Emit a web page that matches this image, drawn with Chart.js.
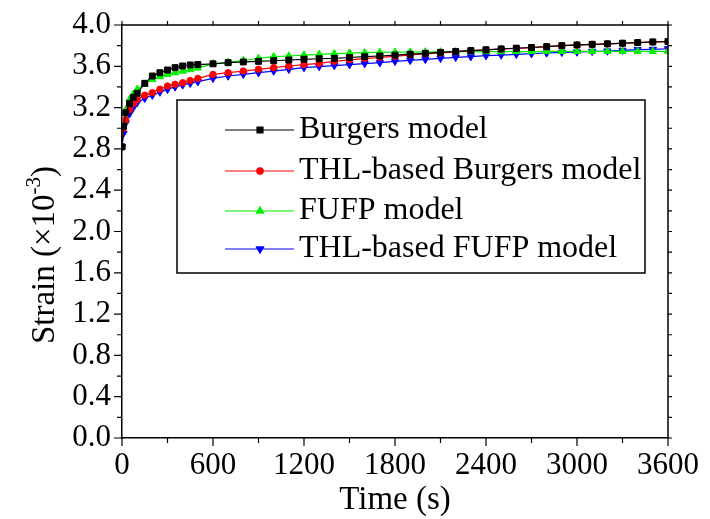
<!DOCTYPE html>
<html><head><meta charset="utf-8">
<script src="https://cdn.jsdelivr.net/npm/chart.js@4"></script>
<style>html,body{margin:0;padding:0;background:#fff}</style>
</head><body>
<canvas id="c" width="710" height="519"></canvas>
<script>
const times = [0,10,25,50,75,100,150,200,250,300,350,400,450,500,600,700,800,900,1000,1100,1200,1300,1400,1500,1600,1700,1800,1900,2000,2100,2200,2300,2400,2500,2600,2700,2800,2900,3000,3100,3200,3300,3400,3500,3600];
const burgers = [2.82,3.02,3.15,3.24,3.30,3.338,3.435,3.506,3.538,3.564,3.587,3.603,3.613,3.617,3.624,3.635,3.642,3.648,3.654,3.661,3.668,3.673,3.677,3.685,3.693,3.700,3.708,3.717,3.726,3.735,3.744,3.752,3.760,3.768,3.775,3.782,3.790,3.800,3.807,3.813,3.818,3.824,3.830,3.836,3.840];
const thlBurgers = [2.82,3.00,3.08,3.18,3.24,3.28,3.32,3.345,3.378,3.409,3.426,3.441,3.462,3.483,3.522,3.538,3.554,3.571,3.587,3.603,3.617,3.629,3.648,3.663,3.675,3.687,3.697,3.710,3.720,3.729,3.740,3.752,3.758,3.768,3.774,3.781,3.790,3.800,3.806,3.813,3.816,3.822,3.829,3.835,3.838];
const fufp = [2.82,3.05,3.18,3.28,3.33,3.377,3.425,3.474,3.500,3.522,3.538,3.554,3.568,3.584,3.624,3.638,3.656,3.677,3.693,3.700,3.709,3.716,3.722,3.728,3.732,3.735,3.737,3.738,3.739,3.740,3.741,3.741,3.742,3.742,3.743,3.743,3.744,3.744,3.744,3.745,3.745,3.745,3.745,3.745,3.745];
const thlFufp = [2.82,2.95,3.05,3.14,3.20,3.248,3.29,3.32,3.35,3.377,3.40,3.419,3.435,3.451,3.483,3.506,3.522,3.538,3.554,3.571,3.587,3.597,3.607,3.616,3.626,3.635,3.648,3.657,3.667,3.677,3.687,3.693,3.703,3.709,3.716,3.722,3.729,3.735,3.738,3.745,3.748,3.755,3.761,3.764,3.770];
const seriesLabels = ['Burgers model','THL-based Burgers model','FUFP model','THL-based FUFP model'];
const xTitle = 'Time (s)';
const yTitleMain = 'Strain (\u00d710';
const yTitleSup = '-3';
const yTitleEnd = ')';

const FONT = "'Liberation Serif', 'Times New Roman', serif";
function pts(arr){ return times.map((t,i)=>({x:t,y:arr[i]})); }
function ds(label, arr, color, style, r, rot){
  return {label, data:pts(arr), borderColor:color, backgroundColor:color, borderWidth:1.2,
    pointStyle:style, pointRadius:r, pointRotation:rot||0, pointBorderWidth:1, pointBorderColor:color,
    tension:0, fill:false};
}
const datasets = [
  ds(seriesLabels[0], burgers, '#000000', 'rect', 4.2),
  ds(seriesLabels[1], thlBurgers, '#ff0000', 'circle', 3.2),
  ds(seriesLabels[2], fufp, '#00f000', 'triangle', 4.2),
  ds(seriesLabels[3], thlFufp, '#0000ff', 'triangle', 4.2, 180)
];

const framePlugin = {
  id:'frame',
  afterDraw(chart){
    const ctx = chart.ctx, a = chart.chartArea, xs = chart.scales.x, ys = chart.scales.y;
    ctx.save();
    ctx.strokeStyle = '#000'; ctx.lineWidth = 1.5;
    ctx.beginPath();
    ctx.moveTo(a.left, a.top); ctx.lineTo(a.right, a.top); ctx.lineTo(a.right, a.bottom);
    ctx.stroke();
    ctx.lineWidth = 1.2;
    ctx.beginPath();
    for (let t=0; t<=3600; t+=300){
      const px = xs.getPixelForValue(t);
      const major = t % 600 === 0;
      ctx.moveTo(px, a.bottom); ctx.lineTo(px, a.bottom + (major?8:5));
      ctx.moveTo(px, a.top); ctx.lineTo(px, a.top - 4);
    }
    for (let k=0; k<=20; k++){
      const v = k*0.2, py = ys.getPixelForValue(v);
      const major = k % 2 === 0;
      ctx.moveTo(a.left, py); ctx.lineTo(a.left - (major?8:5), py);
      ctx.moveTo(a.right, py); ctx.lineTo(a.right + 4, py);
    }
    ctx.stroke();

    ctx.fillStyle = '#000';
    ctx.font = '33px ' + FONT;
    ctx.textAlign = 'center'; ctx.textBaseline = 'middle';
    ctx.fillText(xTitle, (a.left + a.right)/2, 500);

    ctx.save();
    ctx.translate(45, 255);
    ctx.rotate(-Math.PI/2);
    ctx.textAlign = 'left';
    ctx.font = '33px ' + FONT;
    const w1 = ctx.measureText(yTitleMain).width;
    const w3 = ctx.measureText(yTitleEnd).width;
    ctx.font = '21px ' + FONT;
    const w2 = ctx.measureText(yTitleSup).width;
    let x0 = -(w1+w2+w3)/2;
    ctx.font = '33px ' + FONT;
    ctx.fillText(yTitleMain, x0, 0);
    ctx.font = '21px ' + FONT;
    ctx.fillText(yTitleSup, x0 + w1, -11);
    ctx.font = '33px ' + FONT;
    ctx.fillText(yTitleEnd, x0 + w1 + w2, 0);
    ctx.restore();

    const bx = 177, by = 100, bw = 468, bh = 173;
    ctx.fillStyle = '#fff';
    ctx.fillRect(bx, by, bw, bh);
    ctx.strokeStyle = '#000'; ctx.lineWidth = 1.5;
    ctx.strokeRect(bx, by, bw, bh);
    const rows = [130, 171, 211, 249];
    chart.data.datasets.forEach((d, i) => {
      const y = rows[i];
      ctx.strokeStyle = d.borderColor; ctx.lineWidth = 1.2;
      ctx.beginPath(); ctx.moveTo(225, y); ctx.lineTo(294, y); ctx.stroke();
      ctx.fillStyle = d.backgroundColor; ctx.strokeStyle = d.borderColor;
      Chart.helpers.drawPoint(ctx, {pointStyle:d.pointStyle, rotation:d.pointRotation, radius:d.pointRadius, borderWidth:1}, 260, y);
      ctx.fillStyle = '#000';
      ctx.font = '32px ' + FONT;
      ctx.textAlign = 'left'; ctx.textBaseline = 'middle';
      ctx.fillText(d.label, 299, y);
    });
    ctx.restore();
  }
};

new Chart(document.getElementById('c'), {
  type:'line',
  data:{datasets},
  plugins:[framePlugin],
  options:{
    responsive:false, animation:false, devicePixelRatio:1,
    layout:{padding:{left:0, right:42, top:25, bottom:0}},
    plugins:{legend:{display:false}, tooltip:{enabled:false}},
    scales:{
      x:{type:'linear', min:0, max:3600,
        afterFit(s){ s.height = 81; },
        ticks:{stepSize:600, autoSkip:false, maxRotation:0, padding:1, color:'#000', font:{family:FONT, size:31}, callback:v=>String(v)},
        grid:{drawOnChartArea:false, tickLength:8, tickColor:'rgba(0,0,0,0)'},
        border:{color:'#000', width:1.5}},
      y:{type:'linear', min:0, max:4,
        afterFit(s){ s.width = 122; },
        ticks:{stepSize:0.4, padding:3, color:'#000', font:{family:FONT, size:31}, callback:v=>Number(v).toFixed(1)},
        grid:{drawOnChartArea:false, tickLength:8, tickColor:'rgba(0,0,0,0)'},
        border:{color:'#000', width:1.5}}
    }
  }
});
</script>
</body></html>
